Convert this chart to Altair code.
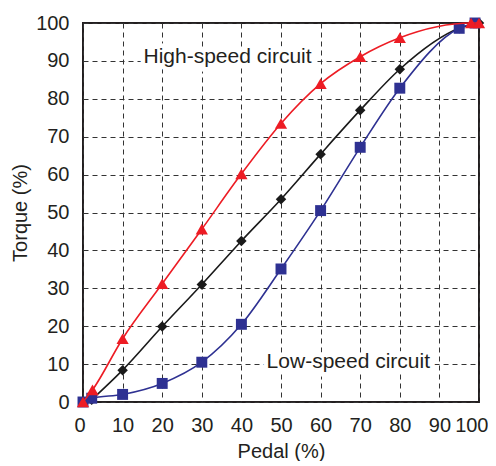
import altair as alt
import pandas as pd

# High-speed circuit (red triangles)
pedal_high = [0, 2.4, 10, 20, 30, 40, 50, 60, 70, 80, 98, 100]
torque_high = [0, 3.2, 16.7, 31.2, 45.6, 60.2, 73.5, 84.0, 91.1, 96.1, 100, 100]

# Middle curve (black diamonds)
pedal_mid = [2.2, 10, 20, 30, 40, 50, 60, 70, 80, 95, 100]
torque_mid = [0.6, 8.4, 19.9, 31.0, 42.5, 53.5, 65.4, 77.0, 87.8, 98.6, 100]

# Low-speed circuit (blue squares)
pedal_low = [0, 2.2, 10, 20, 30, 40, 50, 60, 70, 80, 95, 99]
torque_low = [0, 1.0, 2.0, 4.9, 10.5, 20.5, 35.1, 50.5, 67.2, 82.8, 98.6, 100]

x_ticks = [0, 10, 20, 30, 40, 50, 60, 70, 80, 90, 100]
y_ticks = [0, 10, 20, 30, 40, 50, 60, 70, 80, 90, 100]

labels = ["High-speed circuit", "Low-speed circuit"]
label_x = [36.5, 67]
label_y = [91, 10.5]

FONT = "Liberation Sans"

df_high = pd.DataFrame({"pedal": pedal_high, "torque": torque_high})
df_mid = pd.DataFrame({"pedal": pedal_mid, "torque": torque_mid})
df_low = pd.DataFrame({"pedal": pedal_low, "torque": torque_low})
df_lab = pd.DataFrame({"text": labels, "pedal": label_x, "torque": label_y})

xs = alt.Scale(domain=[0, 100], nice=False)
ys = alt.Scale(domain=[0, 100], nice=False)

xenc = alt.X("pedal:Q", scale=xs, axis=alt.Axis(values=x_ticks, title="Pedal (%)"))
yenc = alt.Y("torque:Q", scale=ys, axis=alt.Axis(values=y_ticks, title="Torque (%)"))


def series(df, color, shape, size):
    base = alt.Chart(df).encode(x=xenc, y=yenc)
    line = base.mark_line(color=color, strokeWidth=1.6, interpolate="monotone")
    pts = base.mark_point(color=color, filled=True, opacity=1, shape=shape, size=size)
    return line + pts


halo = alt.Chart(df_lab).mark_text(
    font=FONT, fontSize=21, color="white", stroke="white", strokeWidth=9
).encode(x=xenc, y=yenc, text="text:N")
txt = alt.Chart(df_lab).mark_text(
    font=FONT, fontSize=21, color="#231f20"
).encode(x=xenc, y=yenc, text="text:N")

chart = alt.layer(
    halo,
    txt,
    series(df_mid, "#1a1a1a", "diamond", 110),
    series(df_low, "#2e3192", "square", 120),
    series(df_high, "#ed1c24", "triangle-up", 150),
).properties(
    width=396, height=379, padding={"left": 2, "top": 5, "right": 0, "bottom": 0}
).configure_view(
    stroke="#231f20", strokeWidth=2
).configure_axis(
    labelFont=FONT, titleFont=FONT, labelFontSize=20, titleFontSize=20,
    labelColor="#231f20", titleColor="#231f20", titleFontWeight="normal",
    grid=True, gridColor="#333333", gridDash=[5, 4], gridWidth=1, gridOpacity=1,
    ticks=False, tickSize=0, domain=False, labelOverlap=False,
).configure_axisX(
    labelPadding=13, titlePadding=6, labelFlush=True, labelFlushOffset=9
).configure_axisY(
    labelPadding=14, titlePadding=5, labelFlush=False
)

chart.save("out.html", embed_options={"renderer": "svg", "actions": False})
